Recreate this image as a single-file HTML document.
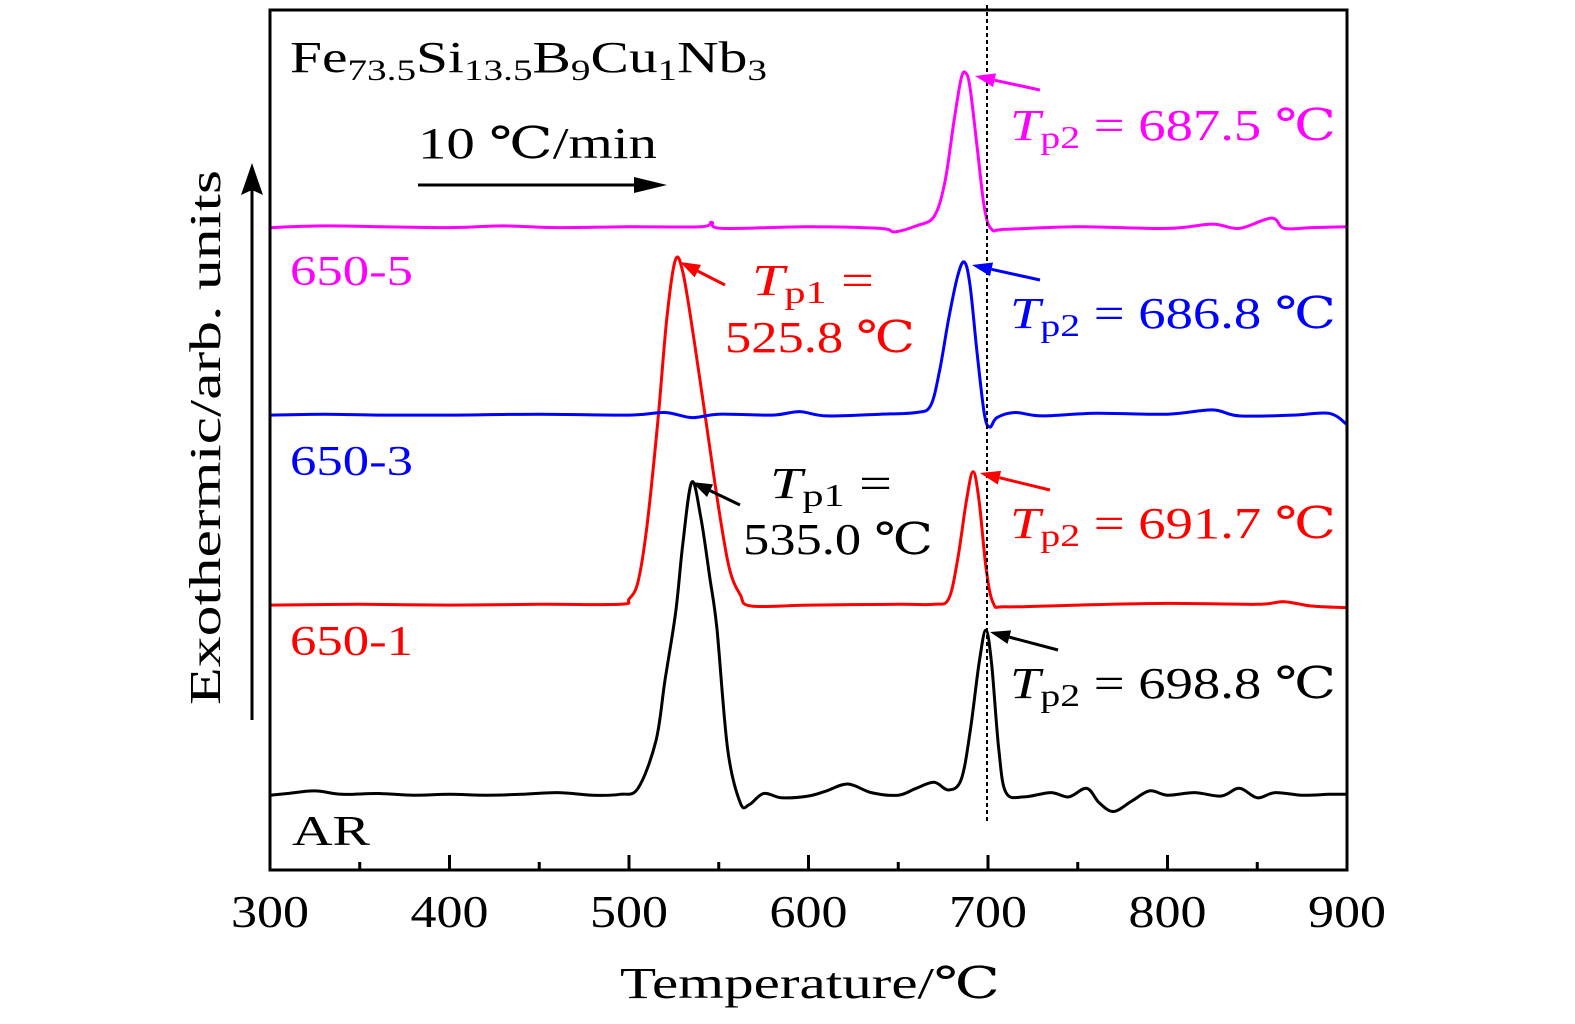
<!DOCTYPE html>
<html><head><meta charset="utf-8"><style>
html,body{margin:0;padding:0;background:#fff;}
svg{display:block;font-family:"Liberation Serif","DejaVu Serif",serif;}
</style></head><body>
<svg id="chart" width="1575" height="1024" viewBox="0 0 1575 1024">
<rect x="0" y="0" width="1575" height="1024" fill="#fff"/>
<g id="curves"></g>
<line x1="987" y1="5" x2="987" y2="822" stroke="#000" stroke-width="2" stroke-dasharray="4,3"/>
<rect x="270" y="10" width="1077" height="860" fill="none" stroke="#000" stroke-width="3"/>
<g id="ticks"></g>
<text x="620" y="998" font-size="44" textLength="380" lengthAdjust="spacingAndGlyphs">Temperature/℃</text>
<text transform="translate(220,705) rotate(-90)" font-size="44" textLength="535" lengthAdjust="spacingAndGlyphs">Exothermic/arb. units</text>
<line x1="252" y1="720" x2="252" y2="175" stroke="#000" stroke-width="3"/>
<path d="M241,195 L252,163 L263,195 L252,190 z" fill="#000"/>
<text x="290" y="72" font-size="44" textLength="477" lengthAdjust="spacingAndGlyphs">Fe<tspan font-size="30" dy="8">73.5</tspan><tspan dy="-8">Si</tspan><tspan font-size="30" dy="8">13.5</tspan><tspan dy="-8">B</tspan><tspan font-size="30" dy="8">9</tspan><tspan dy="-8">Cu</tspan><tspan font-size="30" dy="8">1</tspan><tspan dy="-8">Nb</tspan><tspan font-size="30" dy="8">3</tspan></text>
<text x="418" y="158" font-size="44" textLength="239" lengthAdjust="spacingAndGlyphs">10 ℃/min</text>
<line x1="418" y1="185" x2="640" y2="185" stroke="#000" stroke-width="3"/>
<path d="M634,177 L667,185 L634,193 z" fill="#000"/>
<text x="290" y="285" font-size="42" textLength="123" lengthAdjust="spacingAndGlyphs" fill="#ff00ff">650-5</text>
<text x="290" y="475" font-size="42" textLength="123" lengthAdjust="spacingAndGlyphs" fill="#0000ff">650-3</text>
<text x="290" y="655" font-size="42" textLength="123" lengthAdjust="spacingAndGlyphs" fill="#ff0000">650-1</text>
<text x="292" y="845" font-size="42" textLength="78" lengthAdjust="spacingAndGlyphs" fill="#000">AR</text>
<g id="annot">
<text x="1010" y="140" font-size="44" textLength="326" lengthAdjust="spacingAndGlyphs" fill="#ff00ff"><tspan font-style="italic">T</tspan><tspan font-size="32" dy="8">p2</tspan><tspan dy="-8"> = 687.5 ℃</tspan></text>
<text x="1010" y="328" font-size="44" textLength="326" lengthAdjust="spacingAndGlyphs" fill="#0000ff"><tspan font-style="italic">T</tspan><tspan font-size="32" dy="8">p2</tspan><tspan dy="-8"> = 686.8 ℃</tspan></text>
<text x="1010" y="538" font-size="44" textLength="326" lengthAdjust="spacingAndGlyphs" fill="#ff0000"><tspan font-style="italic">T</tspan><tspan font-size="32" dy="8">p2</tspan><tspan dy="-8"> = 691.7 ℃</tspan></text>
<text x="1010" y="698" font-size="44" textLength="326" lengthAdjust="spacingAndGlyphs" fill="#000"><tspan font-style="italic">T</tspan><tspan font-size="32" dy="8">p2</tspan><tspan dy="-8"> = 698.8 ℃</tspan></text>
<text x="752" y="295" font-size="44" textLength="122" lengthAdjust="spacingAndGlyphs" fill="#ff0000"><tspan font-style="italic">T</tspan><tspan font-size="32" dy="8">p1</tspan><tspan dy="-8"> =</tspan></text>
<text x="725" y="352" font-size="44" textLength="190" lengthAdjust="spacingAndGlyphs" fill="#ff0000">525.8 ℃</text>
<text x="770" y="498" font-size="44" textLength="122" lengthAdjust="spacingAndGlyphs" fill="#000"><tspan font-style="italic">T</tspan><tspan font-size="32" dy="8">p1</tspan><tspan dy="-8"> =</tspan></text>
<text x="743" y="554" font-size="44" textLength="190" lengthAdjust="spacingAndGlyphs" fill="#000">535.0 ℃</text>
</g>
<g id="arrows"></g>
</svg>
<script>
const arTemps = [300,310,325,340,360,380,400,420,440,460,480,495,505,515,520,526,530,535,540,545,549,555,562,567,575,585,600,610,622,635,650,660,670,678,685,690,695,698.8,702,706,710,720,735,745,755,762,770,780,790,800,815,830,840,850,860,875,890,900];
const arValues = [8.7,8.9,9.2,8.8,8.9,8.7,8.8,8.7,8.8,9.0,8.7,8.8,9.5,15,22,30,38,45.1,41,34,28,14,7.8,7.6,8.9,8.4,8.6,9.2,10.0,9.0,8.7,9.5,10.2,9.3,10.5,16,24,27.9,24,14,9.0,8.5,9.0,8.5,9.5,7.8,6.8,8.0,9.2,8.7,9.0,8.6,9.5,8.4,9.0,8.7,8.8,8.8];
const s1Temps = [300,350,400,450,495,500,505,510,516,521,525.8,530,536,543,550,556,562,568,600,650,670,678,683,688,691.7,695,699,703,710,750,800,850,865,880,900];
const s1Values = [30.8,30.9,30.8,30.9,30.9,31.5,33.5,40,52,64,70.9,69.5,62,52,42,35,32,30.7,30.8,30.9,30.9,31.5,36,43,46.3,43,35,31,30.6,30.8,31.0,30.9,31.2,30.7,30.5];
const s3Temps = [300,330,360,400,450,500,520,535,550,580,595,610,640,660,668,673,678,683,686.8,690,694,698,701,705,715,730,760,800,825,840,870,890,900];
const s3Values = [52.9,53,52.9,52.9,53,52.9,53.2,52.6,53.0,52.9,53.3,52.8,53,53.2,54,58,64,69,70.7,68,60,53,51.5,52.6,53.2,52.8,53.1,53,53.5,52.8,52.9,53.1,51.8];
const s5Temps = [300,330,360,400,430,460,500,540,546,552,600,640,648,660,670,676,681,685,687.5,690,694,698,702,710,750,800,825,840,858,865,880,900];
const s5Values = [74.7,74.9,74.8,74.7,74.9,74.7,74.8,74.8,75.3,74.6,74.8,74.6,74.2,74.9,76,80,87,92,92.7,91,84,77,74.5,74.5,74.8,74.6,75.1,74.6,75.8,74.6,74.7,74.8];
const xTicks = [300,400,500,600,700,800,900];

const NS = "http://www.w3.org/2000/svg";
const X = t => 270 + (t - 300) * 1077 / 600;
const Y = v => 870 - v * 8.6;
function smoothPath(xs, ys){
  const p = xs.map((t,i)=>[X(t),Y(ys[i])]);
  let d = "M"+p[0][0].toFixed(1)+","+p[0][1].toFixed(1);
  for(let i=0;i<p.length-1;i++){
    const p0=p[Math.max(0,i-1)],p1=p[i],p2=p[i+1],p3=p[Math.min(p.length-1,i+2)];
    const c1=[p1[0]+(p2[0]-p0[0])/6,p1[1]+(p2[1]-p0[1])/6];
    const c2=[p2[0]-(p3[0]-p1[0])/6,p2[1]-(p3[1]-p1[1])/6];
    d+=" C"+c1.map(v=>v.toFixed(1))+" "+c2.map(v=>v.toFixed(1))+" "+p2.map(v=>v.toFixed(1));
  }
  return d;
}
const cg = document.getElementById("curves");
[[arTemps,arValues,"#000","curve-ar"],[s1Temps,s1Values,"#ff0000","curve-650-1"],[s3Temps,s3Values,"#0000ff","curve-650-3"],[s5Temps,s5Values,"#ff00ff","curve-650-5"]].forEach(s=>{
  const el=document.createElementNS(NS,"path");
  el.setAttribute("d",smoothPath(s[0],s[1]));
  el.setAttribute("fill","none");
  el.setAttribute("stroke",s[2]);
  el.setAttribute("stroke-width","3");
  
  
  cg.appendChild(el);
});
const tg = document.getElementById("ticks");
for(let t=300;t<=900;t+=50){
  const major = t%100===0;
  const l=document.createElementNS(NS,"line");
  l.setAttribute("x1",X(t));l.setAttribute("x2",X(t));
  l.setAttribute("y1",870);l.setAttribute("y2",major?855:862);
  l.setAttribute("stroke","#000");l.setAttribute("stroke-width","3");
  
  
  tg.appendChild(l);
}
xTicks.forEach(t=>{
  const tx=document.createElementNS(NS,"text");
  tx.setAttribute("x",X(t)-39);tx.setAttribute("y",927);
  tx.setAttribute("font-size","46");
  tx.setAttribute("textLength","78");
  tx.setAttribute("lengthAdjust","spacingAndGlyphs");
  tx.textContent=t;
  
  
  tg.appendChild(tx);
});
const ag=document.getElementById("arrows");
[[1040,90,975,76,"#ff00ff"],[1040,280,972,265,"#0000ff"],[1050,490,980,473,"#ff0000"],[1058,650,990,632,"#000"],[725,285,680,262,"#ff0000"],[740,505,692,482,"#000"]].forEach(a=>{
  const [x1,y1,x2,y2,c]=a;
  const ang=Math.atan2(y2-y1,x2-x1), L=20, W=7;
  const bx=x2-L*Math.cos(ang), by=y2-L*Math.sin(ang);
  const ln=document.createElementNS(NS,"line");
  ln.setAttribute("x1",x1);ln.setAttribute("y1",y1);ln.setAttribute("x2",bx);ln.setAttribute("y2",by);
  ln.setAttribute("stroke",c);ln.setAttribute("stroke-width","3");
  
  
  ag.appendChild(ln);
  const hd=document.createElementNS(NS,"path");
  const px=-Math.sin(ang)*W, py=Math.cos(ang)*W;
  hd.setAttribute("d",`M${x2},${y2} L${bx+px},${by+py} L${bx-px},${by-py} z`);
  hd.setAttribute("fill",c);
  
  
  ag.appendChild(hd);
});
</script>
</body></html>
